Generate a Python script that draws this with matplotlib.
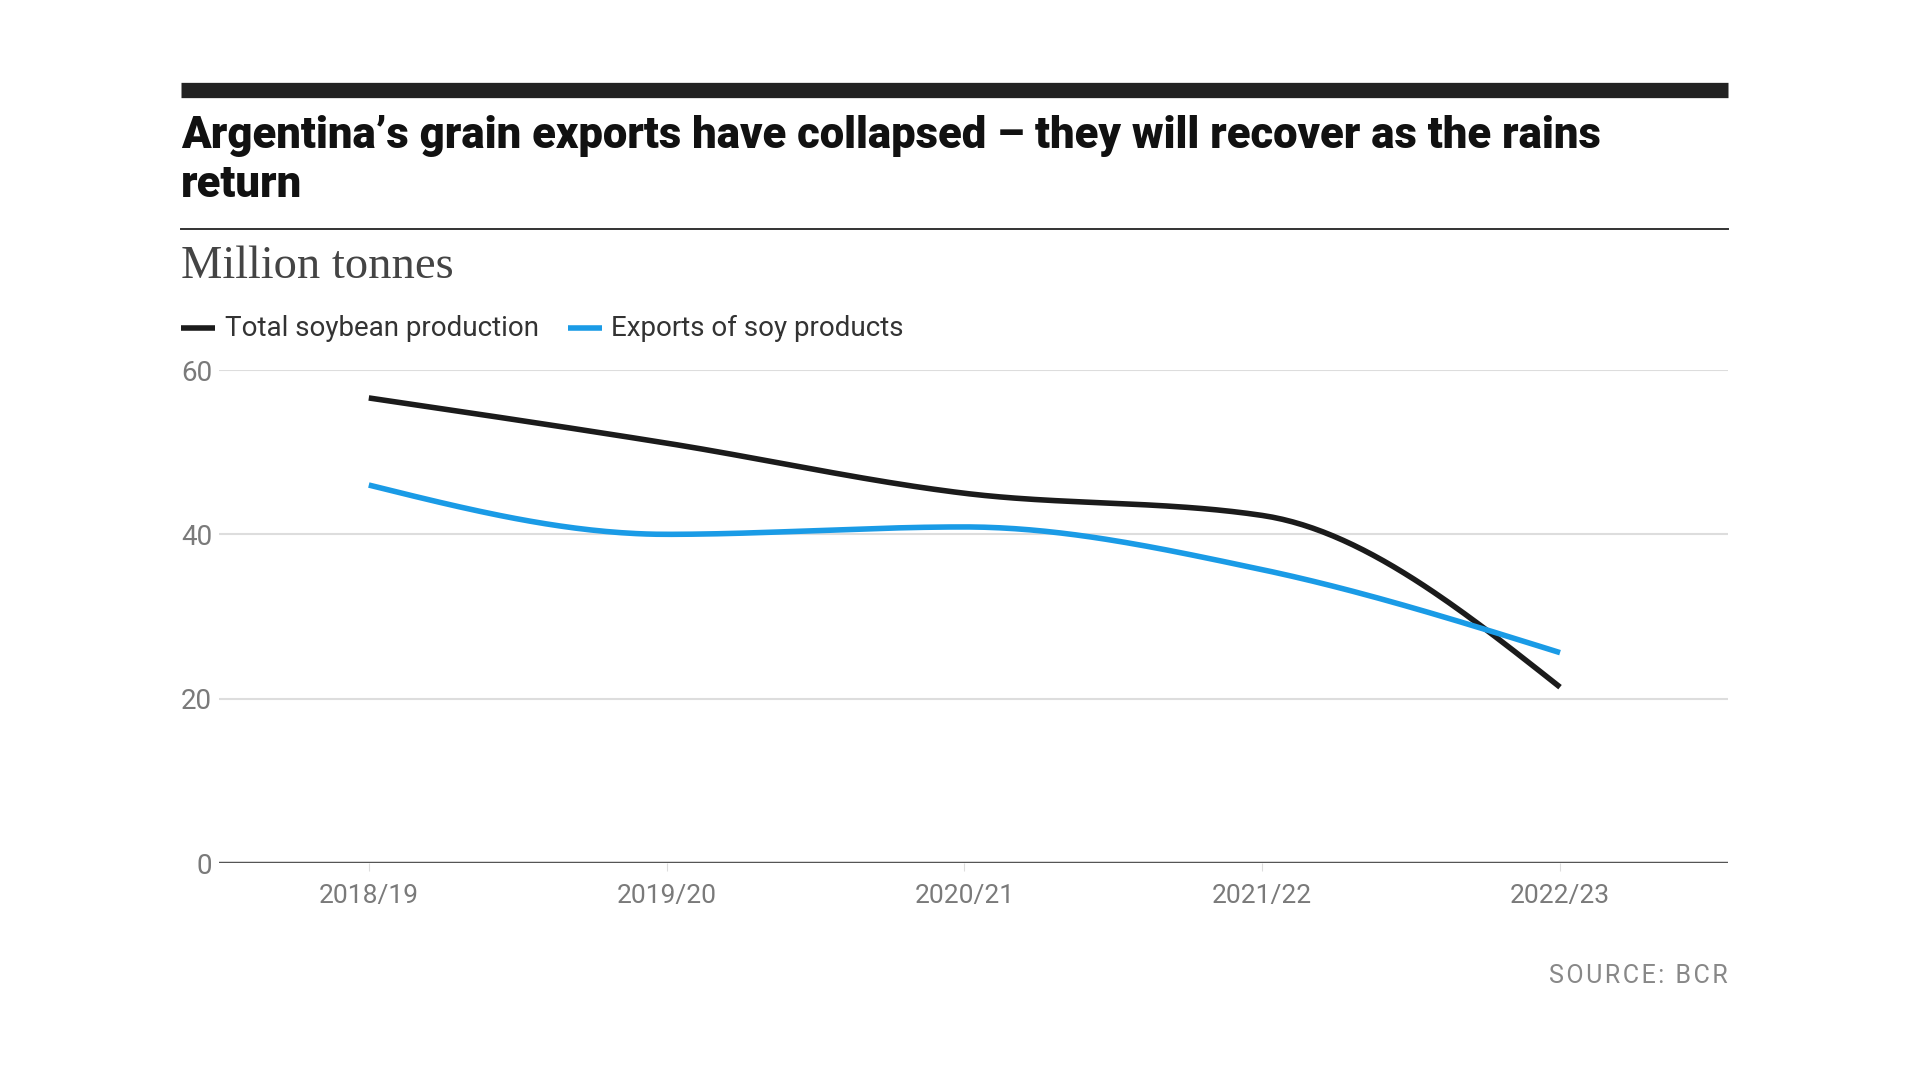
# Argentina soybean production vs exports of soy products
# smooth lines drawn with a monotone cubic (like d3 curveMonotoneX)

import numpy as np
import matplotlib.pyplot as plt
from matplotlib.lines import Line2D

# data
seasons = ["2018/19", "2019/20", "2020/21", "2021/22", "2022/23"]
production = [56.6, 51.1, 45.0, 42.3, 21.4]
exports = [46.0, 40.0, 40.9, 35.7, 25.6]
y_ticks = [0, 20, 40, 60]

title = "Argentina\u2019s grain exports have collapsed \u2013 they will recover as the rains\nreturn"
unit_label = "Million tonnes"
series_names = ["Total soybean production", "Exports of soy products"]
source = "SOURCE: BCR"

BLACK = "#1b1b1b"
BLUE = "#1a9be6"
GREY = "#7a7a7a"


def monotone_curve(x, y, n=60):
    # Steffen / d3 monotoneX slopes, hermite segments
    x = np.asarray(x, float)
    y = np.asarray(y, float)
    h = np.diff(x)
    s = np.diff(y) / h
    t = np.zeros(len(x))
    for i in range(1, len(x) - 1):
        p = (s[i - 1] * h[i] + s[i] * h[i - 1]) / (h[i - 1] + h[i])
        t[i] = (np.sign(s[i - 1]) + np.sign(s[i])) * min(abs(s[i - 1]), abs(s[i]), 0.5 * abs(p))
    t[0] = (3 * s[0] - t[1]) / 2
    t[-1] = (3 * s[-1] - t[-2]) / 2

    xs, ys = [], []
    for i in range(len(x) - 1):
        u = np.linspace(0, 1, n)
        h00 = 2 * u**3 - 3 * u**2 + 1
        h10 = u**3 - 2 * u**2 + u
        h01 = -2 * u**3 + 3 * u**2
        h11 = u**3 - u**2
        xs.append(x[i] + u * h[i])
        ys.append(h00 * y[i] + h10 * h[i] * t[i] + h01 * y[i + 1] + h11 * h[i] * t[i + 1])
    return np.concatenate(xs), np.concatenate(ys)


fig = plt.figure(figsize=(19.2, 10.79), dpi=100)
W, H = 1920, 1079


def fx(px):
    return px / W


def fy(py):
    return 1 - py / H


# header decorations
fig.add_artist(Line2D([fx(181), fx(1728)], [fy(90), fy(90)], color="#222222", lw=11, solid_capstyle="butt"))
fig.add_artist(Line2D([fx(181), fx(1728)], [fy(229), fy(229)], color="#333333", lw=1.4))

fig.text(fx(181), fy(115), title, fontsize=31.4, fontweight="black", family="Roboto",
         color="#111111", va="top", ha="left", linespacing=1.22)
fig.text(fx(181), fy(267), unit_label, fontsize=33.5, family="Liberation Serif",
         color="#444444", va="center", ha="left")

# legend
leg_y = fy(328)
fig.add_artist(Line2D([fx(181), fx(215)], [leg_y, leg_y], color=BLACK, lw=4, solid_capstyle="butt"))
fig.text(fx(225), leg_y, series_names[0], fontsize=20, family="Roboto", color="#333333", va="center")
fig.add_artist(Line2D([fx(568), fx(602)], [leg_y, leg_y], color=BLUE, lw=4, solid_capstyle="butt"))
fig.text(fx(611), leg_y, series_names[1], fontsize=20, family="Roboto", color="#333333", va="center")

# plot
ax = fig.add_axes([fx(219), fy(863), fx(1728) - fx(219), fy(370) - fy(863)])
xi = np.arange(len(seasons))

cx, cy = monotone_curve(xi, production)
ax.plot(cx, cy, color=BLACK, lw=4, solid_capstyle="butt", clip_on=False, zorder=3)
cx, cy = monotone_curve(xi, exports)
ax.plot(cx, cy, color=BLUE, lw=4, solid_capstyle="butt", clip_on=False, zorder=4)

ax.set_xlim(-0.503, 4.564)
ax.set_ylim(0, 60)
ax.set_yticks(y_ticks)
ax.set_xticks(xi)
ax.set_xticklabels(seasons)

for v in y_ticks[1:]:
    ax.axhline(v, color="#dddddd", lw=1.5, zorder=1)
ax.axhline(0, color="#555555", lw=2.5, zorder=2)

for sp in ax.spines.values():
    sp.set_visible(False)

ax.tick_params(axis="y", length=0, pad=5, labelsize=20, labelcolor=GREY)
ax.tick_params(axis="x", length=6, width=0.8, color="#dddddd", pad=9, labelsize=19, labelcolor=GREY)
for lab in ax.get_xticklabels() + ax.get_yticklabels():
    lab.set_family("Roboto")

fig.text(fx(1728), fy(976), "\u200a".join(source), fontsize=18, family=["Roboto", "DejaVu Sans"],
         color="#888888", ha="right", va="center")

fig.savefig("out.png", dpi=100, facecolor="white")
